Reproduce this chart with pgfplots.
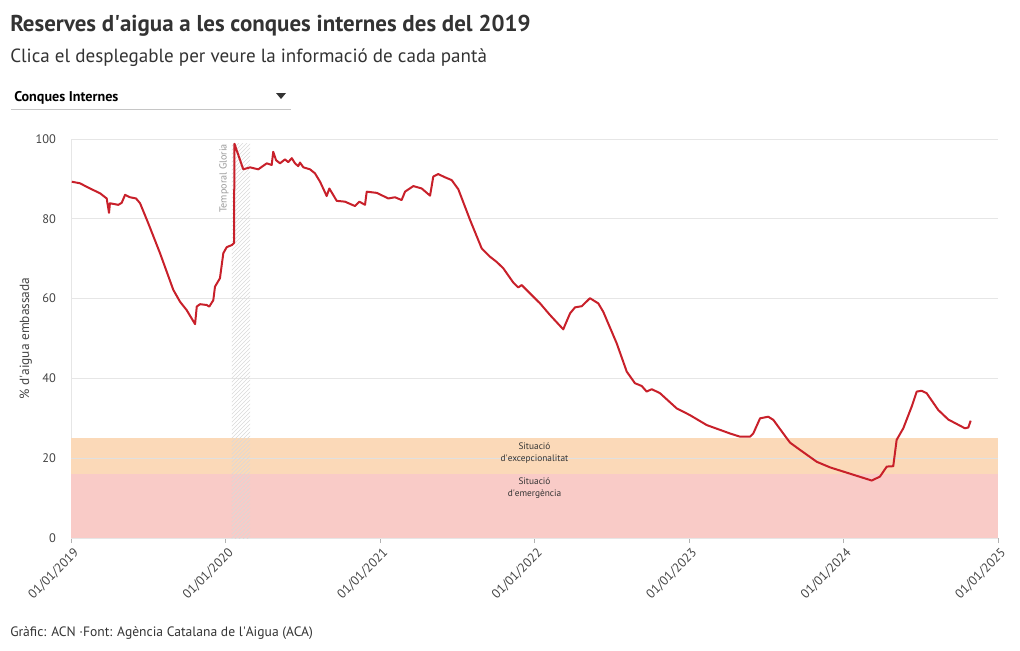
\documentclass[border=0pt]{standalone}
\usepackage{fontspec}
\setmainfont{PT Sans}
\usepackage{pgfplots}
\pgfplotsset{compat=1.18}
\usetikzlibrary{patterns}
\definecolor{linered}{HTML}{C8202A}
\definecolor{bandorange}{HTML}{FBD9B8}
\definecolor{bandred}{HTML}{F9CBC7}
\definecolor{gridgray}{HTML}{E6E6E6}
\definecolor{txt}{HTML}{333333}
\definecolor{ticktxt}{HTML}{444444}
\newcommand{\ap}{\textquotesingle}
\begin{document}
\begin{tikzpicture}
\begin{scope}[x=0.75pt,y=-0.75pt]
\node[anchor=base west, inner sep=0, text=txt, font=\bfseries\fontsize{17.2}{19}\selectfont] at (10,31) {Reserves d\ap aigua a les conques internes des del 2019};
\node[anchor=base west, inner sep=0, text=txt, font=\fontsize{14.3}{16}\selectfont] at (10,62) {Clica el desplegable per veure la informació de cada pantà};
\node[anchor=base west, inner sep=0, text=black, font=\bfseries\fontsize{10.6}{12}\selectfont] at (14,101) {Conques Internes};
\fill[txt] (276,93) -- (286,93) -- (281,99) -- cycle;
\draw[gray!45, line width=0.6pt] (11,109) -- (291,109);
\node[anchor=base west, inner sep=0, text=txt, font=\fontsize{10.2}{12}\selectfont] at (10,636) {Gràfic: ACN ·Font: Agència Catalana de l\ap Aigua (ACA)};
\end{scope}
\begin{axis}[
  at={(53.25pt,-403.5pt)}, anchor=south west,
  scale only axis, width=695.25pt, height=299.25pt,
  xmin=0, xmax=6, ymin=0, ymax=100,
  axis lines*=left,
  axis line style={draw=gridgray, line width=0.6pt},
  xtick={0,1,2,3,4,5,6},
  xticklabels={01/01/2019,01/01/2020,01/01/2021,01/01/2022,01/01/2023,01/01/2024,01/01/2025},
  xticklabel style={rotate=45, anchor=north east, inner sep=1pt, yshift=-2pt, font=\fontsize{9.6}{11}\selectfont},
  ytick={0,20,40,60,80,100},
  ymajorgrids, grid style={draw=gridgray, line width=0.6pt},
  tick align=outside, major tick length=3.75pt,
  xtick style={draw=gray!60, line width=0.6pt},
  ytick style={draw=none},
  tick label style={font=\fontsize{9.3}{10}\selectfont, text=ticktxt},
  /pgf/number format/assume math mode=true,
  yticklabel style={xshift=-4pt},
  ylabel={\% d\ap aigua embassada},
  ylabel style={font=\fontsize{10}{11}\selectfont, text=ticktxt, yshift=-4pt},
  clip=false,
]
\fill[bandred] (axis cs:0,0) rectangle (axis cs:6,16);
\fill[bandorange] (axis cs:0,16) rectangle (axis cs:6,25);
\draw[draw=black!12, line width=0.6pt] (axis cs:0,20) -- (axis cs:6,20);
\fill[pattern=north east lines, pattern color=gray!30] (axis cs:1.042,0) rectangle (axis cs:1.159,98.8);
\node[align=center, text=txt, font=\fontsize{7}{9}\selectfont] at (axis cs:3,21.3) {Situació\\d\ap excepcionalitat};
\node[align=center, text=txt, font=\fontsize{7}{9}\selectfont] at (axis cs:3,12.5) {Situació\\d\ap emergència};
\node[rotate=90, anchor=east, inner sep=0, text=gray!80, font=\fontsize{7.6}{8}\selectfont] at (axis cs:0.99,98.8) {Temporal Gloria};
\addplot[linered, line width=1.5pt, line join=round] coordinates {
(0.005,89.3) (0.058,88.9) (0.123,87.6) (0.188,86.4) (0.231,85.1) (0.246,81.5) (0.252,83.9)
(0.306,83.5) (0.328,84.0) (0.350,86.0) (0.382,85.4) (0.421,85.1) (0.447,83.9) (0.500,78.9)
(0.576,71.4) (0.662,62.2) (0.706,59.2) (0.749,57.1) (0.803,53.6) (0.814,58.0) (0.835,58.6)
(0.878,58.4) (0.895,58.0) (0.921,59.6) (0.932,63.0) (0.964,65.1) (0.986,71.4) (1.008,72.9)
(1.040,73.4) (1.055,73.9) (1.058,98.8) (1.115,92.4) (1.159,92.9) (1.212,92.4) (1.267,93.9)
(1.299,93.5) (1.309,96.8) (1.327,94.7) (1.353,93.9) (1.385,94.9) (1.406,94.2) (1.429,95.2)
(1.450,93.9) (1.471,93.2) (1.482,94.1) (1.504,92.9) (1.547,92.4) (1.579,91.4) (1.612,89.3)
(1.655,85.7) (1.672,87.6) (1.720,84.5) (1.773,84.3) (1.838,83.2) (1.866,84.3) (1.903,83.5)
(1.914,86.8) (1.979,86.5) (2.054,85.1) (2.097,85.4) (2.140,84.7) (2.162,86.8) (2.216,88.2)
(2.270,87.6) (2.324,85.8) (2.345,90.6) (2.377,91.2) (2.421,90.4) (2.464,89.7) (2.507,87.4)
(2.583,79.7) (2.658,72.6) (2.712,70.5) (2.755,69.2) (2.798,67.6) (2.863,64.0) (2.895,62.8)
(2.917,63.4) (2.971,61.3) (3.036,58.8) (3.100,55.9) (3.186,52.3) (3.230,56.3) (3.262,57.8)
(3.306,58.1) (3.359,60.1) (3.413,58.8) (3.445,56.7) (3.532,48.8) (3.597,41.7) (3.650,38.8)
(3.694,38.1) (3.726,36.7) (3.759,37.3) (3.812,36.3) (3.920,32.5) (4.006,30.8) (4.115,28.3)
(4.201,27.1) (4.265,26.2) (4.330,25.4) (4.395,25.4) (4.416,26.2) (4.460,30.0) (4.513,30.4)
(4.546,29.6) (4.610,26.2) (4.654,23.9) (4.718,22.1) (4.827,19.1) (4.913,17.7) (5.183,14.4)
(5.236,15.4) (5.280,17.9) (5.322,18.0) (5.344,24.6) (5.387,27.5) (5.441,32.9) (5.474,36.7)
(5.506,36.9) (5.538,36.3) (5.613,32.1) (5.678,29.7) (5.786,27.5) (5.808,27.7) (5.823,29.4)
};
\end{axis}
\pgfresetboundingbox
\path (0,0) rectangle (765pt,-487.5pt);
\end{tikzpicture}
\end{document}
